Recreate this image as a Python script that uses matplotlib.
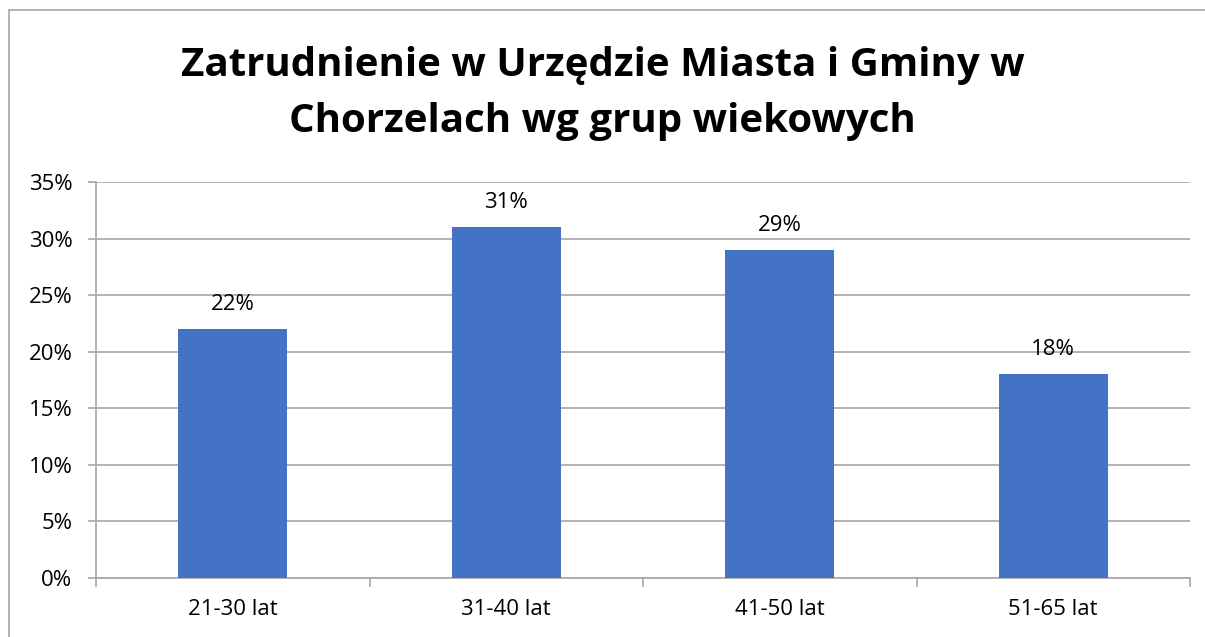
import matplotlib
matplotlib.use("Agg")
import matplotlib.pyplot as plt
from matplotlib.patches import Rectangle
from matplotlib.ticker import MultipleLocator, FuncFormatter, FixedLocator

categories = ["21-30 lat", "31-40 lat", "41-50 lat", "51-65 lat"]
values = [22, 31, 29, 18]
title_lines = ["Zatrudnienie w Urzędzie Miasta i Gminy w", "Chorzelach wg grup wiekowych"]

plt.rcParams['font.family'] = ['Open Sans', 'DejaVu Sans']

fig = plt.figure(figsize=(12.05, 6.37), dpi=100)
fig.patch.set_facecolor("white")

# outer chart border (left & top visible)
fig.add_artist(Rectangle((9/1205, -0.1), 1.2, 1 - 10/637 + 0.1, transform=fig.transFigure,
                         fill=False, edgecolor="#A6A6A6", linewidth=1.2))

ax = fig.add_axes([96/1205, 1 - 578/637, (1190 - 96)/1205, (578 - 182)/637])
x = list(range(len(categories)))
ax.bar(x, values, width=0.40, color="#4472C4", zorder=3)

ax.set_xlim(-0.5, len(categories) - 0.5)
ax.set_ylim(0, 35)
ax.yaxis.set_major_locator(MultipleLocator(5))
ax.yaxis.set_major_formatter(FuncFormatter(lambda v, p: f"{int(v)}%"))
ax.grid(axis="y", color="#A6A6A6", linewidth=1.2, zorder=0)

for s in ["top", "right"]:
    ax.spines[s].set_visible(False)
for s in ["left", "bottom"]:
    ax.spines[s].set_color("#A6A6A6")
    ax.spines[s].set_linewidth(1.2)

ax.set_xticks(x)
ax.set_xticklabels(categories, fontsize=16)
ax.tick_params(axis="x", which="major", length=0, pad=15)
ax.xaxis.set_minor_locator(FixedLocator([i - 0.5 for i in range(len(categories) + 1)]))
ax.tick_params(axis="x", which="minor", length=6.5, color="#A6A6A6", width=1.2)
ax.tick_params(axis="y", length=6, color="#A6A6A6", width=1.2, labelsize=16, pad=11)

for xi, v in zip(x, values):
    ax.annotate(f"{v}%", (xi, v), xytext=(0, 10), textcoords="offset points",
                ha="center", va="bottom", fontsize=16)

for line, base in zip(title_lines, [76, 132]):
    fig.text(0.5, 1 - base/637, line, ha="center", va="baseline", fontsize=29,
             fontweight="bold")

fig.savefig("out.png", dpi=100)
